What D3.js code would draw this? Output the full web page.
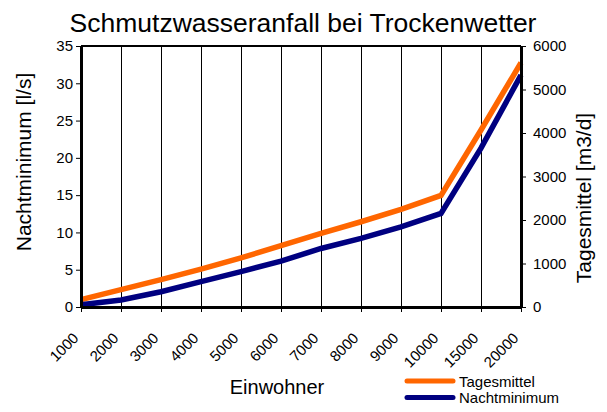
<!DOCTYPE html>
<html lang="de">
<head>
<meta charset="UTF-8">
<script src="https://d3js.org/d3.v7.min.js"></script>
<title>Schmutzwasseranfall</title>
<style>
  body { margin: 0; background: #fff; }
  text { font-family: "Liberation Sans", Arial, sans-serif; fill: #000; }
</style>
</head>
<body>
<svg width="607" height="412" id="chart"></svg>
<script>
// Einwohner (categories)
const einwohner = ["1000", "2000", "3000", "4000", "5000", "6000", "7000", "8000", "9000", "10000", "15000", "20000"];
// Tagesmittel [m3/d] - right axis
const tagesmittel = [170, 400, 630, 870, 1130, 1410, 1690, 1960, 2245, 2565, 4070, 5615];
// Nachtminimum [l/s] - left axis
const nachtminimum = [0.3, 0.95, 2.05, 3.4, 4.75, 6.15, 7.85, 9.2, 10.75, 12.55, 21.3, 31.1];
const leftTicks = [0, 5, 10, 15, 20, 25, 30, 35];
const rightTicks = [0, 1000, 2000, 3000, 4000, 5000, 6000];

const svg = d3.select("#chart");
const pLeft = 81, pRight = 521, pTop = 46, pBottom = 307;

const x = d3.scalePoint().domain(einwohner).range([pLeft, pRight]);
const yL = d3.scaleLinear().domain([0, 35]).range([pBottom, pTop]);
const yR = d3.scaleLinear().domain([0, 6000]).range([pBottom, pTop]);

// vertical grid lines
svg.append("g")
  .selectAll("line")
  .data(einwohner.slice(1, -1))
  .join("line")
  .attr("x1", d => x(d) + 0.5).attr("x2", d => x(d) + 0.5)
  .attr("y1", pTop).attr("y2", pBottom)
  .attr("stroke", "#000").attr("stroke-width", 1);

// lines
const lineR = d3.line().x((d, i) => x(einwohner[i])).y(d => yR(d));
const lineL = d3.line().x((d, i) => x(einwohner[i])).y(d => yL(d));

svg.append("path")
  .attr("d", lineR(tagesmittel))
  .attr("fill", "none").attr("stroke", "#ff6600").attr("stroke-width", 5.5);
svg.append("path")
  .attr("d", lineL(nachtminimum))
  .attr("fill", "none").attr("stroke", "#000080").attr("stroke-width", 5.5);

// top border
svg.append("line")
  .attr("x1", pLeft).attr("x2", pRight).attr("y1", pTop).attr("y2", pTop)
  .attr("stroke", "#000").attr("stroke-width", 2);

// axes
const fontSize = "15px";
const axL = svg.append("g").attr("transform", `translate(${pLeft},0)`)
  .call(d3.axisLeft(yL).tickValues(leftTicks).tickSize(5).tickPadding(3).tickSizeOuter(0));
const axR = svg.append("g").attr("transform", `translate(${pRight},0)`)
  .call(d3.axisRight(yR).tickValues(rightTicks).tickFormat(d3.format("d"))
    .tickSize(5).tickPadding(7).tickSizeOuter(0));
const axB = svg.append("g").attr("transform", `translate(0,${pBottom})`)
  .call(d3.axisBottom(x).tickSize(5).tickSizeOuter(0).tickFormat(() => ""));

[axL, axR, axB].forEach(a => {
  a.select(".domain").attr("stroke", "#000").attr("stroke-width", 3);
  a.selectAll(".tick line").attr("stroke", "#000").attr("stroke-width", 1);
  a.selectAll("text").style("font-size", fontSize).attr("font-family", null);
});

// rotated category labels
svg.append("g")
  .selectAll("text")
  .data(einwohner)
  .join("text")
  .attr("transform", d => `translate(${x(d) - 1.5},${pBottom + 32}) rotate(-45)`)
  .attr("text-anchor", "end")
  .style("font-size", fontSize)
  .text(d => d);

// title
svg.append("text")
  .attr("x", 303).attr("y", 32)
  .attr("text-anchor", "middle")
  .style("font-size", "26.5px")
  .text("Schmutzwasseranfall bei Trockenwetter");

// axis titles
svg.append("text")
  .attr("transform", `translate(31,162) rotate(-90)`)
  .attr("text-anchor", "middle")
  .style("font-size", "21px")
  .text("Nachtminimum [l/s]");
svg.append("text")
  .attr("transform", `translate(591,198) rotate(-90)`)
  .attr("text-anchor", "middle")
  .style("font-size", "21px")
  .text("Tagesmittel [m3/d]");
svg.append("text")
  .attr("x", 277).attr("y", 394)
  .attr("text-anchor", "middle")
  .style("font-size", "20px")
  .text("Einwohner");

// legend
const legend = [
  { name: "Tagesmittel", color: "#ff6600" },
  { name: "Nachtminimum", color: "#000080" }
];
const lg = svg.append("g").selectAll("g").data(legend).join("g")
  .attr("transform", (d, i) => `translate(407,${381 + i * 16.5})`);
lg.append("line")
  .attr("x1", 0).attr("x2", 46).attr("y1", 0).attr("y2", 0)
  .attr("stroke", d => d.color).attr("stroke-width", 5).attr("stroke-linecap", "round");
lg.append("text")
  .attr("x", 52).attr("y", 5.5)
  .style("font-size", "15px")
  .text(d => d.name);
</script>
</body>
</html>
